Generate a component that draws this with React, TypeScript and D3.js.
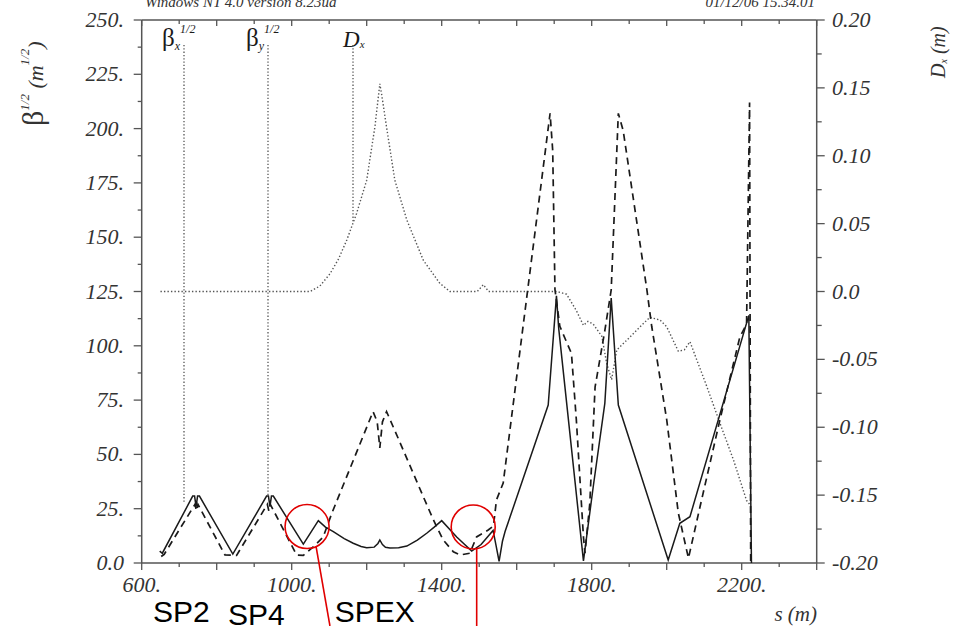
import React from "react";
import * as d3 from "d3";

// ---- data (s in m) ----
const betaXS = [648, 655, 736, 741, 745, 749, 754, 843, 933, 938, 942, 946, 951, 1031, 1071, 1090, 1111, 1140, 1164, 1185, 1200, 1220, 1230, 1235, 1242, 1250, 1262, 1285, 1307, 1335, 1360, 1380, 1400, 1440, 1480, 1505, 1537, 1545, 1553, 1562, 1569, 1684, 1706, 1712, 1778, 1804, 1835, 1852, 1871, 2004, 2035, 2062, 2219, 2226];
const betaXV = [5.5, 4.5, 30.8, 30.8, 26, 30.8, 30.8, 4.1, 30.8, 30.8, 26, 30.8, 30.8, 8.7, 19.5, 16.5, 14.4, 11.2, 9.1, 7.6, 7.0, 7.3, 9, 10.6, 8.5, 7.2, 6.9, 7.0, 7.8, 10.5, 13.7, 16.5, 19.5, 12, 5.5, 8.5, 15, 8, 0.8, 10, 14.5, 72.7, 123, 108, 1, 35, 73.5, 122, 72.7, 1.4, 18.3, 21.3, 114, 0];

const betaYS = [652, 660, 742, 746, 750, 822, 853, 935, 939, 943, 1013, 1031, 1058, 1084, 1107, 1217, 1228, 1235, 1242, 1253, 1290, 1351, 1378, 1404, 1431, 1449, 1475, 1493, 1524, 1538, 1546, 1564, 1689, 1696, 1702, 1715, 1746, 1759, 1778, 1782, 1795, 1809, 1835, 1852, 1871, 1884, 1947, 1960, 2000, 2031, 2058, 2089, 2142, 2195, 2213, 2221, 2224];
const betaYV = [3, 4, 27, 24, 27, 3.7, 3.5, 27, 24, 27, 3.7, 3.5, 7.5, 12, 22.9, 69.7, 65, 53, 65, 69.7, 55, 30.5, 19.8, 10.6, 5.2, 3.7, 4.5, 12, 15.2, 17, 29, 36.8, 207, 190, 126, 109, 96.5, 66, 12, 4.5, 27.5, 81, 107, 125.7, 207, 199, 126, 109, 66, 23, 2.2, 26, 66, 104, 110, 212, 0];

const dxS = [650, 1049, 1075, 1102, 1125, 1147, 1173, 1200, 1222, 1235, 1240, 1253, 1275, 1307, 1351, 1395, 1422, 1495, 1511, 1525, 1707, 1733, 1759, 1778, 1790, 1804, 1827, 1840, 1853, 1867, 1893, 1929, 1955, 1982, 2000, 2031, 2047, 2062, 2107, 2142, 2178, 2213, 2222];
const dxV = [0, 0, 0.004, 0.013, 0.024, 0.038, 0.0575, 0.082, 0.1215, 0.153, 0.145, 0.121, 0.082, 0.0527, 0.023, 0.006, 0, 0, 0.005, 0, 0, -0.002, -0.014, -0.025, -0.022, -0.024, -0.033, -0.053, -0.065, -0.043, -0.036, -0.026, -0.019, -0.021, -0.026, -0.044, -0.043, -0.037, -0.070, -0.097, -0.124, -0.154, -0.157];

const leftTicks = [0, 25, 50, 75, 100, 125, 150, 175, 200, 225, 250];
const leftTickLabels = ["0.0", "25.", "50.", "75.", "100.", "125.", "150.", "175.", "200.", "225.", "250."];
const rightTicks = [-0.2, -0.15, -0.1, -0.05, 0, 0.05, 0.1, 0.15, 0.2];
const rightTickLabels = ["-0.20", "-0.15", "-0.10", "-0.05", "0.0", "0.05", "0.10", "0.15", "0.20"];
const xLabelTicks = [600, 1000, 1400, 1800, 2200];
const xTickLabels = ["600.", "1000.", "1400.", "1800.", "2200."];

// legend pointer lines: s position, top (beta units), bottom value
const legendS = [712.8, 936.8, 1163.5];
const legendNames = ["x", "y", "D"];
const legendTopBeta = 238.5;
const legendBottomBeta = [27.6, 30.8];
const legendBottomDx = 0.0505;

// annotations
const circleS = [1041, 1484];
const circleB = [16.8, 16.6];
const pointerFromS = [1064.8, 1493.3];
const pointerFromB = [7.8, 6.4];
const pointerToS = [1102, 1493.3];
const pointerToB = -29;
const spNames = ["SP2", "SP4", "SPEX"];
const spS = [630, 830, 1115];
const spB = [-27, -28.5, -27];

const W = 956, H = 626;
const X0 = 141.7, X1 = 816.7, Y0 = 20, Y1 = 563;

export default function App() {
  const x = d3.scaleLinear().domain([600, 2400]).range([X0, X1]);
  const yL = d3.scaleLinear().domain([0, 250]).range([Y1, Y0]);
  const yR = d3.scaleLinear().domain([-0.2, 0.2]).range([Y1, Y0]);

  const bx = betaXS.map((s, i) => [s, betaXV[i]] as [number, number]);
  const by = betaYS.map((s, i) => [s, betaYV[i]] as [number, number]);
  const dx = dxS.map((s, i) => [s, dxV[i]] as [number, number]);

  const lineL = d3.line<[number, number]>().x((d) => x(d[0])).y((d) => yL(d[1]));
  const lineR = d3.line<[number, number]>().x((d) => x(d[0])).y((d) => yR(d[1]));

  const xMinor = d3.range(600, 2401, 100);
  const yLMinor = d3.range(0, 250.1, 12.5);
  const yRMinor = d3.range(-0.2, 0.2001, 0.025);

  const serif = "'Liberation Serif', 'DejaVu Serif', serif";
  const sans = "'Liberation Sans', Arial, sans-serif";
  const axisColor = "#555";
  const ink = "#1a1a1a";

  return (
    <div style={{ position: "absolute", left: 0, top: 0 }}>
      <svg width={W} height={H} style={{ display: "block", background: "#fff" }}>
        {/* clipped header text */}
        <text x={145} y={7} fontFamily={serif} fontStyle="italic" fontSize={15} fill="#333">Windows NT 4.0 version 8.23ua</text>
        <text x={815} y={7} textAnchor="end" fontFamily={serif} fontStyle="italic" fontSize={15} fill="#333">01/12/06 15.34.01</text>

        {/* frame */}
        <line x1={X0} x2={X1} y1={Y0} y2={Y0} stroke={axisColor} strokeWidth={1.5} />
        <line x1={X0} x2={X1} y1={Y1} y2={Y1} stroke={axisColor} strokeWidth={1.5} />
        <line x1={X0} x2={X0} y1={Y0} y2={Y1} stroke={axisColor} strokeWidth={1.5} />
        <line x1={X1} x2={X1} y1={Y0} y2={Y1} stroke={axisColor} strokeWidth={1.5} />

        {/* x ticks bottom and top */}
        {xMinor.map((v) => {
          const major = v % 200 === 0;
          return (
            <g key={"xt" + v}>
              <line x1={x(v)} x2={x(v)} y1={Y1} y2={Y1 + (major ? 7 : 4)} stroke={axisColor} strokeWidth={1.3} />
              <line x1={x(v)} x2={x(v)} y1={Y0} y2={Y0 + (major ? 6 : 4)} stroke={axisColor} strokeWidth={1.3} />
            </g>
          );
        })}
        {xLabelTicks.map((v, i) => (
          <text key={"xl" + v} x={x(v)} y={592} textAnchor="middle" fontFamily={serif} fontStyle="italic" fontSize={22} fill="#333">{xTickLabels[i]}</text>
        ))}

        {/* left ticks */}
        {yLMinor.map((v, i) => {
          const major = i % 2 === 0;
          return <line key={"ylt" + i} x1={X0 - (major ? 8 : 4)} x2={X0} y1={yL(v)} y2={yL(v)} stroke={axisColor} strokeWidth={1.3} />;
        })}
        {leftTicks.map((v, i) => (
          <text key={"yll" + v} x={124} y={yL(v) + 7} textAnchor="end" fontFamily={serif} fontStyle="italic" fontSize={22} fill="#333">{leftTickLabels[i]}</text>
        ))}

        {/* right ticks */}
        {yRMinor.map((v, i) => {
          const major = i % 2 === 0;
          return <line key={"yrt" + i} x1={X1} x2={X1 + (major ? 8 : 5)} y1={yR(v)} y2={yR(v)} stroke={axisColor} strokeWidth={1.3} />;
        })}
        {rightTicks.map((v, i) => (
          <text key={"yrl" + i} x={832} y={yR(v) + 7} fontFamily={serif} fontStyle="italic" fontSize={22} fill="#333">{rightTickLabels[i]}</text>
        ))}

        {/* axis titles */}
        <text transform="translate(43,126) rotate(-90)" fontFamily={serif} fill="#333">
          <tspan fontSize={30}>β</tspan>
          <tspan fontSize={13} fontStyle="italic" dy={-14}>1/2</tspan>
          <tspan fontSize={22} fontStyle="italic" dy={14}> (m</tspan>
          <tspan fontSize={13} fontStyle="italic" dy={-14}>1/2</tspan>
          <tspan fontSize={22} fontStyle="italic" dy={14}>)</tspan>
        </text>
        <text transform="translate(945,78) rotate(-90)" fontFamily={serif} fontStyle="italic" fill="#333">
          <tspan fontSize={20}>D</tspan>
          <tspan fontSize={10} dy={2}>x</tspan>
          <tspan fontSize={20} dy={-2}> (m)</tspan>
        </text>
        <text x={817} y={621} textAnchor="end" fontFamily={serif} fontStyle="italic" fontSize={21} fill="#333">s (m)</text>

        {/* legend labels */}
        {legendS.map((s, i) => {
          const name = legendNames[i];
          if (name === "D") {
            return (
              <text key="lgD" x={x(s) - 10} y={47} fontFamily={serif} fontStyle="italic" fill={ink}>
                <tspan fontSize={23}>D</tspan>
                <tspan fontSize={11} dy={1}>x</tspan>
              </text>
            );
          }
          return (
            <text key={"lg" + name} x={x(s) - 22} y={46} fontFamily={serif} fill={ink}>
              <tspan fontSize={25}>β</tspan>
              <tspan fontSize={12} fontStyle="italic" dy={4}>{name}</tspan>
              <tspan fontSize={12} fontStyle="italic" dy={-17}>1/2</tspan>
            </text>
          );
        })}
        {legendS.map((s, i) => (
          <line key={"lgl" + i} x1={x(s)} x2={x(s)} y1={yL(legendTopBeta)} y2={i < 2 ? yL(legendBottomBeta[i]) : yR(legendBottomDx)} stroke="#555" strokeWidth={1.3} strokeDasharray="1.3 2" />
        ))}

        {/* curves */}
        <path d={lineR(dx) || ""} fill="none" stroke="#555" strokeWidth={1.4} strokeDasharray="1.4 2.1" />
        <path d={lineL(by) || ""} fill="none" stroke={ink} strokeWidth={1.7} strokeDasharray="7 5" />
        <path d={lineL(bx) || ""} fill="none" stroke={ink} strokeWidth={1.5} />

        {/* annotations */}
        {circleS.map((s, i) => (
          <circle key={"c" + i} cx={x(s)} cy={yL(circleB[i])} r={22} fill="none" stroke="#e00000" strokeWidth={1.6} />
        ))}
        {pointerFromS.map((s, i) => (
          <line key={"p" + i} x1={x(s)} y1={yL(pointerFromB[i])} x2={x(pointerToS[i])} y2={yL(pointerToB)} stroke="#e00000" strokeWidth={1.6} />
        ))}
        {spNames.map((n, i) => (
          <text key={n} x={x(spS[i])} y={yL(spB[i])} fontFamily={sans} fontSize={30} fill="#000">{n}</text>
        ))}
      </svg>
    </div>
  );
}
